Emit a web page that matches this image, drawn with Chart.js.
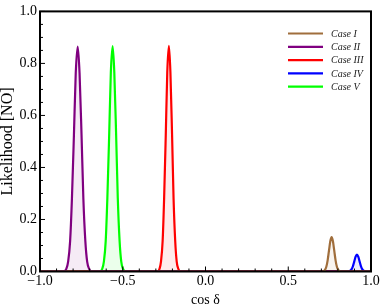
<!DOCTYPE html>
<html>
<head>
<meta charset="utf-8">
<script src="https://cdn.jsdelivr.net/npm/chart.js@4.4.1/dist/chart.umd.min.js"></script>
<style>
  html, body { margin: 0; padding: 0; background: #fff; }
  #wrap { width: 382px; height: 306px; }
</style>
</head>
<body>
<div id="wrap"><canvas id="chart-1"></canvas></div>
<script>
const caseNames = ['Case I', 'Case II', 'Case III', 'Case IV', 'Case V'];
const caseColors = ['rgb(160,110,60)', 'rgb(128,0,128)', 'rgb(255,0,0)', 'rgb(0,0,255)', 'rgb(0,255,0)'];
const caseFills = ['rgba(160,110,60,0.08)', 'rgba(128,0,128,0.08)', 'rgba(255,0,0,0.08)', 'rgba(0,0,255,0.08)', 'rgba(0,255,0,0.08)'];

// cos delta samples and likelihood
const case1X = [-1, 0.706, 0.714, 0.722, 0.730, 0.738, 0.746, 0.754, 0.762, 0.770, 0.778, 0.786, 0.794, 0.802, 0.810, 0.818, 1];
const case1Y = [0, 0.000, 0.001, 0.006, 0.018, 0.043, 0.080, 0.116, 0.132, 0.116, 0.080, 0.043, 0.018, 0.006, 0.001, 0.000, 0];

const case2X = [-1, -0.853, -0.841, -0.830, -0.818, -0.807, -0.795, -0.784, -0.772, -0.761, -0.749, -0.738, -0.726, -0.715, -0.703, -0.692, 1];
const case2Y = [0, 0.002, 0.010, 0.038, 0.117, 0.281, 0.525, 0.763, 0.865, 0.763, 0.525, 0.281, 0.117, 0.038, 0.010, 0.002, 0];

const case3X = [-1, -0.288, -0.278, -0.269, -0.259, -0.250, -0.240, -0.231, -0.221, -0.212, -0.202, -0.193, -0.183, -0.174, -0.164, -0.155, 1];
const case3Y = [0, 0.002, 0.010, 0.038, 0.117, 0.282, 0.526, 0.766, 0.868, 0.766, 0.526, 0.282, 0.117, 0.038, 0.010, 0.002, 0];

const case4X = [-1, 0.859, 0.867, 0.875, 0.883, 0.891, 0.899, 0.907, 0.915, 0.923, 0.931, 0.939, 0.947, 0.955, 0.963, 0.971, 1];
const case4Y = [0, 0.000, 0.001, 0.003, 0.009, 0.021, 0.039, 0.057, 0.065, 0.057, 0.039, 0.021, 0.009, 0.003, 0.001, 0.000, 0];

const case5X = [-1, -0.635, -0.624, -0.614, -0.603, -0.593, -0.582, -0.572, -0.561, -0.551, -0.540, -0.530, -0.519, -0.509, -0.498, -0.488, 1];
const case5Y = [0, 0.002, 0.010, 0.038, 0.117, 0.282, 0.526, 0.765, 0.867, 0.765, 0.526, 0.282, 0.117, 0.038, 0.010, 0.002, 0];

const xMajorTicks = [-1, -0.5, 0, 0.5, 1];
const xMinorTicks = [-0.9, -0.8, -0.7, -0.6, -0.4, -0.3, -0.2, -0.1, 0.1, 0.2, 0.3, 0.4, 0.6, 0.7, 0.8, 0.9];
const yMajorTicks = [0, 0.2, 0.4, 0.6, 0.8, 1];
const yMinorTicks = [0.05, 0.1, 0.15, 0.25, 0.3, 0.35, 0.45, 0.5, 0.55, 0.65, 0.7, 0.75, 0.85, 0.9, 0.95];

const allX = [case1X, case2X, case3X, case4X, case5X];
const allY = [case1Y, case2Y, case3Y, case4Y, case5Y];

const datasets = caseNames.map((name, i) => ({
    label: name,
    data: allX[i].map((x, j) => ({ x: x, y: allY[i][j] })),
    borderColor: caseColors[i],
    backgroundColor: caseFills[i],
    borderWidth: 2.2,
    fill: 'origin',
    pointRadius: 0,
    cubicInterpolationMode: 'monotone'
}));

const serif = '"Liberation Serif", "DejaVu Serif", serif';

const framePlugin = {
    id: 'frame',
    afterDatasetsDraw(chart) {
        const ctx = chart.ctx;
        const a = chart.chartArea;
        const xs = chart.scales.x;
        const ys = chart.scales.y;
        ctx.save();
        ctx.strokeStyle = '#000';
        ctx.lineWidth = 1;
        ctx.beginPath();
        for (const v of xMajorTicks) {
            const px = xs.getPixelForValue(v);
            ctx.moveTo(px, a.bottom); ctx.lineTo(px, a.bottom - 5);
        }
        for (const v of xMinorTicks) {
            const px = xs.getPixelForValue(v);
            ctx.moveTo(px, a.bottom); ctx.lineTo(px, a.bottom - 3);
        }
        for (const v of yMajorTicks) {
            const py = ys.getPixelForValue(v);
            ctx.moveTo(a.left, py); ctx.lineTo(a.left + 5, py);
        }
        for (const v of yMinorTicks) {
            const py = ys.getPixelForValue(v);
            ctx.moveTo(a.left, py); ctx.lineTo(a.left + 3, py);
        }
        ctx.stroke();
        ctx.lineWidth = 2;
        ctx.strokeRect(a.left, a.top, a.right - a.left, a.bottom - a.top);

        // legend inside the plot
        ctx.font = 'italic 10px ' + serif;
        ctx.textBaseline = 'middle';
        ctx.textAlign = 'left';
        caseNames.forEach((name, i) => {
            const y = 33.5 + i * 13.3;
            ctx.strokeStyle = caseColors[i];
            ctx.lineWidth = 2.2;
            ctx.beginPath();
            ctx.moveTo(288, y); ctx.lineTo(323, y);
            ctx.stroke();
            ctx.fillStyle = '#222';
            ctx.fillText(name, 331, y + 0.5);
        });
        ctx.restore();
    }
};

const ctx1 = document.getElementById('chart-1').getContext('2d');

const myChart = new Chart(ctx1, { // eslint-disable-line
    type: 'line',
    data: { datasets: datasets },
    plugins: [framePlugin],
    options: {
        responsive: true,
        maintainAspectRatio: false,
        animation: false,
        layout: { padding: { top: 7, right: 11, left: 0, bottom: 0 } },
        plugins: { legend: { display: false }, tooltip: { enabled: false } },
        scales: {
            x: {
                type: 'linear',
                min: -1,
                max: 1,
                afterFit: (s) => { s.height = 34.5; },
                afterBuildTicks: (s) => { s.ticks = xMajorTicks.map(v => ({ value: v })); },
                grid: { display: false, drawTicks: false },
                border: { display: false },
                ticks: {
                    padding: 1,
                    color: '#000',
                    font: { family: serif, size: 14 },
                    callback: (v) => (v < 0 ? '\u2212' : '') + Math.abs(v).toFixed(1)
                },
                title: {
                    display: true,
                    text: 'cos \u03b4',
                    color: '#000',
                    font: { family: serif, size: 14, lineHeight: 1.2 },
                    padding: { top: 0, bottom: -3 }
                }
            },
            y: {
                min: 0,
                max: 1,
                afterFit: (s) => { s.width = 40; },
                afterBuildTicks: (s) => { s.ticks = yMajorTicks.map(v => ({ value: v })); },
                grid: { display: false, drawTicks: false },
                border: { display: false },
                ticks: {
                    padding: 3,
                    color: '#000',
                    font: { family: serif, size: 14 },
                    callback: (v) => v.toFixed(1)
                },
                title: {
                    display: true,
                    text: 'Likelihood [NO]',
                    color: '#000',
                    font: { family: serif, size: 16, lineHeight: 1.2 },
                    padding: { top: -2, bottom: 0 }
                }
            }
        }
    }
});
</script>
</body>
</html>
